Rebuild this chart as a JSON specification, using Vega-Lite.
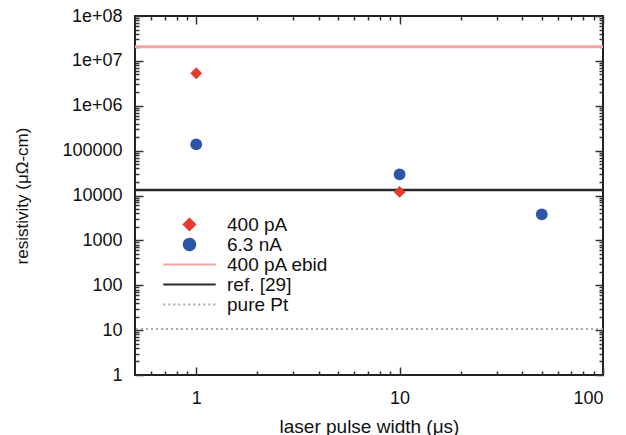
{
  "$schema": "https://vega.github.io/schema/vega-lite/v6.json",
  "width": 468,
  "height": 359,
  "autosize": {"type": "none"},
  "padding": {"left": 135, "top": 16, "right": 23, "bottom": 60},
  "background": "white",
  "config": {
    "view": {"stroke": "#222222", "strokeWidth": 2},
    "font": "Liberation Sans",
    "axis": {"domain": false, "grid": false, "labelFont": "Liberation Sans", "titleFont": "Liberation Sans", "labelColor": "#111111", "titleColor": "#111111", "titleFontWeight": "normal", "tickColor": "#333333", "tickWidth": 1.5},
    "legend": {"labelFont": "Liberation Sans"}
  },
  "data": {"values": [
    {"series": "400 pA", "kind": "point", "x": 1, "y": 5300000},
    {"series": "400 pA", "kind": "point", "x": 10, "y": 12000},
    {"series": "6.3 nA", "kind": "point", "x": 1, "y": 138000},
    {"series": "6.3 nA", "kind": "point", "x": 10, "y": 29600},
    {"series": "6.3 nA", "kind": "point", "x": 50, "y": 3800},
    {"series": "400 pA ebid", "kind": "line", "y": 20700000},
    {"series": "ref. [29]", "kind": "line", "y": 13200},
    {"series": "pure Pt", "kind": "line", "y": 10.6}
  ]},
  "resolve": {"axis": {"x": "independent", "y": "independent"}},
  "layer": [
    {
      "transform": [{"filter": "datum.kind === 'line'"}],
      "mark": {"type": "rule"},
      "encoding": {
        "y": {"field": "y", "type": "quantitative",
          "scale": {"type": "log", "domain": [1, 100000000], "nice": false},
          "axis": {"orient": "left", "ticks": false, "labels": true, "title": "resistivity (μΩ-cm)", "titleFontSize": 17, "titlePadding": 30, "labelFontSize": 18, "labelPadding": 13,
            "values": [1, 10, 100, 1000, 10000, 100000, 1000000, 10000000, 100000000],
            "labelExpr": "datum.value >= 1000000 ? '1e+0' + round(log(datum.value) / LN10) : format(datum.value, 'd')"}},
        "color": {"field": "series", "type": "nominal",
          "scale": {"domain": ["400 pA", "6.3 nA", "400 pA ebid", "ref. [29]", "pure Pt"], "range": ["#e63b2e", "#2d55a6", "#f4a3a3", "#2a2a2a", "#aaaaaa"]},
          "legend": {"title": null, "orient": "none", "legendX": 45, "legendY": 199, "padding": 0, "labelFontSize": 19, "labelOffset": 28, "rowPadding": -2, "symbolSize": 130, "symbolOpacity": 1, "labelColor": "#111111",
            "encode": {"symbols": {"update": {"stroke": {"scale": "color", "field": "value"}, "strokeWidth": {"value": 2}}}}}},
        "strokeDash": {"field": "series", "type": "nominal",
          "scale": {"domain": ["400 pA", "6.3 nA", "400 pA ebid", "ref. [29]", "pure Pt"], "range": [[1, 0], [1, 0], [1, 0], [1, 0], [2, 3]]}},
        "strokeWidth": {"field": "series", "type": "nominal",
          "scale": {"domain": ["400 pA ebid", "ref. [29]", "pure Pt"], "range": [3, 2, 1.5]}, "legend": null}
      }
    },
    {
      "transform": [{"filter": "datum.kind === 'point'"}],
      "mark": {"type": "point", "filled": true, "opacity": 1, "size": 140},
      "encoding": {
        "x": {"field": "x", "type": "quantitative",
          "scale": {"type": "log", "domain": [0.5, 100], "nice": false},
          "axis": {"orient": "bottom", "ticks": false, "labels": true, "title": "laser pulse width (μs)", "titleFontSize": 19, "titlePadding": 10, "labelFontSize": 18, "labelPadding": 14,
            "values": [1, 10, 100], "labelExpr": "format(datum.value, 'd')"}},
        "y": {"field": "y", "type": "quantitative", "scale": {"type": "log", "domain": [1, 100000000], "nice": false}, "axis": null},
        "color": {"field": "series", "type": "nominal",
          "scale": {"domain": ["400 pA", "6.3 nA", "400 pA ebid", "ref. [29]", "pure Pt"], "range": ["#e63b2e", "#2d55a6", "#f4a3a3", "#2a2a2a", "#aaaaaa"]}},
        "shape": {"field": "series", "type": "nominal",
          "scale": {"domain": ["400 pA", "6.3 nA", "400 pA ebid", "ref. [29]", "pure Pt"], "range": ["diamond", "circle", "M-4.6,0H4.6", "M-4.6,0H4.6", "M-4.6,0H4.6"]}}
      }
    },
    {
      "transform": [{"filter": "datum.kind === 'point'"}],
      "mark": {"type": "point", "opacity": 0},
      "encoding": {
        "x": {"field": "x", "type": "quantitative", "axis": {"orient": "bottom", "labels": false, "title": null, "tickSize": -8, "values": [1, 10, 100]}},
        "y": {"field": "y", "type": "quantitative", "axis": {"orient": "left", "labels": false, "title": null, "tickSize": -8, "values": [1, 10, 100, 1000, 10000, 100000, 1000000, 10000000, 100000000]}}
      }
    },
    {
      "transform": [{"filter": "datum.kind === 'point'"}],
      "mark": {"type": "point", "opacity": 0},
      "encoding": {
        "x": {"field": "x", "type": "quantitative", "axis": {"orient": "bottom", "labels": false, "title": null, "tickSize": -4, "values": [0.6, 0.7, 0.8, 0.9, 2, 3, 4, 5, 6, 7, 8, 9, 20, 30, 40, 50, 60, 70, 80, 90]}},
        "y": {"field": "y", "type": "quantitative", "axis": {"orient": "left", "labels": false, "title": null, "tickSize": -4, "values": [2, 3, 4, 5, 6, 7, 8, 9, 20, 30, 40, 50, 60, 70, 80, 90, 200, 300, 400, 500, 600, 700, 800, 900, 2000, 3000, 4000, 5000, 6000, 7000, 8000, 9000, 20000, 30000, 40000, 50000, 60000, 70000, 80000, 90000, 200000, 300000, 400000, 500000, 600000, 700000, 800000, 900000, 2000000, 3000000, 4000000, 5000000, 6000000, 7000000, 8000000, 9000000, 20000000, 30000000, 40000000, 50000000, 60000000, 70000000, 80000000, 90000000]}}
      }
    },
    {
      "transform": [{"filter": "datum.kind === 'point'"}],
      "mark": {"type": "point", "opacity": 0},
      "encoding": {
        "x": {"field": "x", "type": "quantitative", "axis": {"orient": "top", "labels": false, "title": null, "tickSize": -8, "values": [1, 10, 100]}},
        "y": {"field": "y", "type": "quantitative", "axis": {"orient": "right", "labels": false, "title": null, "tickSize": -8, "values": [1, 10, 100, 1000, 10000, 100000, 1000000, 10000000, 100000000]}}
      }
    },
    {
      "transform": [{"filter": "datum.kind === 'point'"}],
      "mark": {"type": "point", "opacity": 0},
      "encoding": {
        "x": {"field": "x", "type": "quantitative", "axis": {"orient": "top", "labels": false, "title": null, "tickSize": -4, "values": [0.6, 0.7, 0.8, 0.9, 2, 3, 4, 5, 6, 7, 8, 9, 20, 30, 40, 50, 60, 70, 80, 90]}},
        "y": {"field": "y", "type": "quantitative", "axis": {"orient": "right", "labels": false, "title": null, "tickSize": -4, "values": [2, 3, 4, 5, 6, 7, 8, 9, 20, 30, 40, 50, 60, 70, 80, 90, 200, 300, 400, 500, 600, 700, 800, 900, 2000, 3000, 4000, 5000, 6000, 7000, 8000, 9000, 20000, 30000, 40000, 50000, 60000, 70000, 80000, 90000, 200000, 300000, 400000, 500000, 600000, 700000, 800000, 900000, 2000000, 3000000, 4000000, 5000000, 6000000, 7000000, 8000000, 9000000, 20000000, 30000000, 40000000, 50000000, 60000000, 70000000, 80000000, 90000000]}}
      }
    }
  ]
}
